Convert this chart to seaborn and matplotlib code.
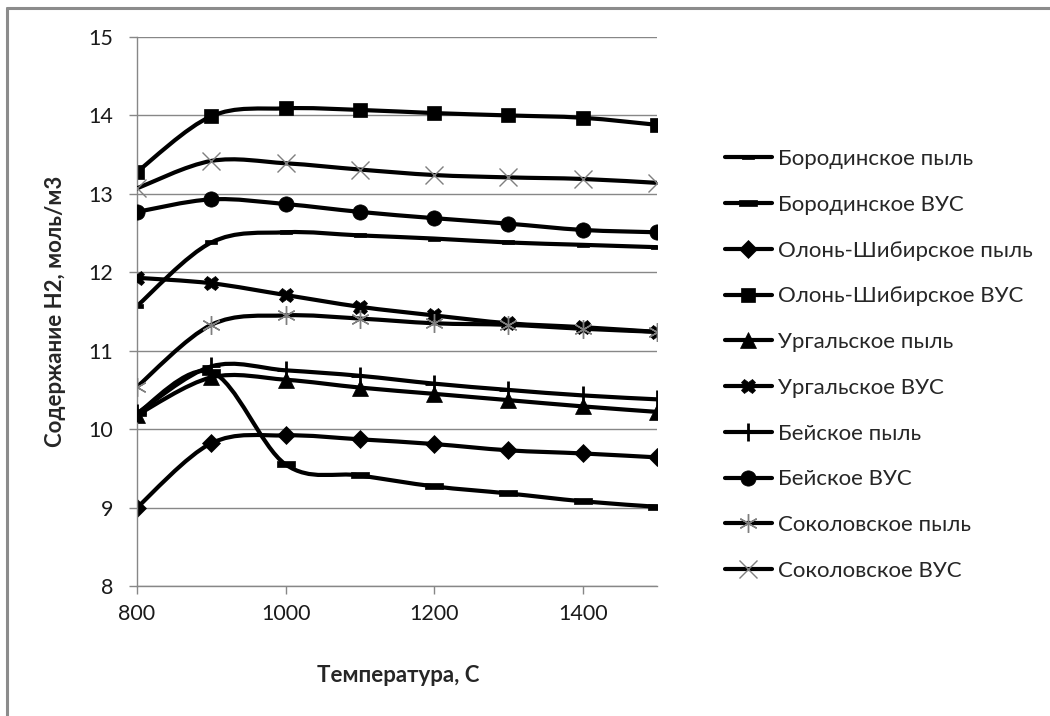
import numpy as np
import pandas as pd
import matplotlib
matplotlib.use("Agg")
import matplotlib.pyplot as plt
from matplotlib.path import Path
from matplotlib.patches import PathPatch
from matplotlib.lines import Line2D
import seaborn as sns

# ---------------- data ----------------
temps = [800, 900, 1000, 1100, 1200, 1300, 1400, 1500]

borodino_dust = [11.57, 12.38, 12.51, 12.47, 12.43, 12.38, 12.35, 12.32]
borodino_vus = [10.20, 10.73, 9.55, 9.41, 9.27, 9.18, 9.08, 9.01]
olon_dust = [9.00, 9.82, 9.92, 9.87, 9.81, 9.73, 9.69, 9.64]
olon_vus = [13.28, 13.99, 14.09, 14.07, 14.03, 14.00, 13.97, 13.88]
urgal_dust = [10.18, 10.66, 10.63, 10.53, 10.45, 10.37, 10.29, 10.22]
urgal_vus = [11.93, 11.86, 11.71, 11.56, 11.45, 11.35, 11.30, 11.24]
bei_dust = [10.20, 10.80, 10.75, 10.68, 10.58, 10.50, 10.43, 10.38]
bei_vus = [12.77, 12.93, 12.87, 12.77, 12.69, 12.62, 12.54, 12.51]
sokol_dust = [10.54, 11.33, 11.45, 11.41, 11.35, 11.33, 11.28, 11.24]
sokol_vus = [13.07, 13.42, 13.39, 13.31, 13.24, 13.21, 13.19, 13.14]

series_names = ["Бородинское пыль", "Бородинское ВУС",
                "Олонь-Шибирское пыль", "Олонь-Шибирское ВУС",
                "Ургальское пыль", "Ургальское ВУС",
                "Бейское пыль", "Бейское ВУС",
                "Соколовское пыль", "Соколовское ВУС"]
series_values = [borodino_dust, borodino_vus, olon_dust, olon_vus,
                 urgal_dust, urgal_vus, bei_dust, bei_vus,
                 sokol_dust, sokol_vus]

y_ticks = [8, 9, 10, 11, 12, 13, 14, 15]
x_ticks = [800, 1000, 1200, 1400]

# ---------------- styles ----------------
dash_small = [(-1, -0.38), (1, -0.38), (1, 0.38), (-1, 0.38), (-1, -0.38)]
dash_big = [(-1, -0.36), (1, -0.36), (1, 0.36), (-1, 0.36), (-1, -0.36)]
GRAY = "#7f7f7f"
styles = [
    dict(marker=dash_small, ms=9, mfc="black", mec="black", mew=0.5),
    dict(marker=dash_big, ms=12.5, mfc="black", mec="black", mew=0.5),
    dict(marker="D", ms=9, mfc="black", mec="black", mew=0.5),
    dict(marker="s", ms=10.5, mfc="black", mec="black", mew=0.5),
    dict(marker="^", ms=12, mfc="black", mec="black", mew=0.5),
    dict(marker="X", ms=10.5, mfc="black", mec="black", mew=0.5),
    dict(marker="+", ms=12.5, mfc="black", mec="black", mew=2.0),
    dict(marker="o", ms=11, mfc="black", mec="black", mew=0.5),
    dict(marker=(6, 2, 0), ms=13.5, mfc=GRAY, mec=GRAY, mew=1.0),
    dict(marker="x", ms=12.5, mfc=GRAY, mec=GRAY, mew=1.0),
]

sns.set_theme(style="white")
plt.rcParams["font.family"] = ["Lato", "Open Sans", "DejaVu Sans"]

fig = plt.figure(figsize=(10.5, 7.16), dpi=100)
ax = fig.add_axes([137 / 1050, 130 / 716, 520 / 1050, 549 / 716])


def smooth_path(xs, ys):
    pts = np.column_stack([xs, ys]).astype(float)
    n = len(pts)
    verts = [pts[0]]
    codes = [Path.MOVETO]
    for i in range(n - 1):
        p0 = pts[i - 1] if i > 0 else pts[i]
        p1 = pts[i]
        p2 = pts[i + 1]
        p3 = pts[i + 2] if i + 2 < n else pts[i + 1]
        c1 = p1 + (p2 - p0) / 6.0
        c2 = p2 - (p3 - p1) / 6.0
        verts += [c1, c2, p2]
        codes += [Path.CURVE4] * 3
    return Path(verts, codes)


LW = 3.0
for i, (name, vals) in enumerate(zip(series_names, series_values)):
    df = pd.DataFrame({"T": temps, "H2": vals})
    patch = PathPatch(smooth_path(df["T"], df["H2"]), facecolor="none",
                      edgecolor="black", lw=LW, capstyle="round",
                      joinstyle="round", zorder=2 + i * 0.1)
    ax.add_patch(patch)
    st = styles[i]
    sns.lineplot(data=df, x="T", y="H2", ax=ax, linewidth=0,
                 marker=st["marker"], markersize=st["ms"],
                 markerfacecolor=st["mfc"], markeredgecolor=st["mec"],
                 markeredgewidth=st["mew"], color="black",
                 zorder=2.05 + i * 0.1, legend=False)

ax.set_xlim(800, 1500)
ax.set_ylim(8, 15)
ax.set_xticks(x_ticks)
ax.set_yticks(y_ticks)
ax.set_xticklabels([str(t) for t in x_ticks])
ax.set_yticklabels([str(t) for t in y_ticks])

GRID = "#878787"
ax.grid(axis="y", color=GRID, lw=1.0)
ax.grid(axis="x", visible=False)
ax.set_axisbelow(True)
for s in ["top", "right"]:
    ax.spines[s].set_visible(False)
for s in ["left", "bottom"]:
    ax.spines[s].set_color(GRID)
    ax.spines[s].set_linewidth(1.0)
ax.tick_params(axis="both", direction="out", length=6, width=1.0,
               color=GRID, labelsize=15.5, labelcolor="#1a1a1a",
               left=True, bottom=True)
ax.tick_params(axis="y", pad=11)
ax.tick_params(axis="x", pad=7)

ax.set_xlabel("Температура, С", fontsize=16, fontweight="bold")
ax.set_ylabel("Содержание Н2, моль/м3", fontsize=16, fontweight="bold")
ax.xaxis.label.set_va("center")
ax.yaxis.label.set_va("center")
ax.xaxis.set_label_coords((398 - 137) / 520, -(676 - 586) / 549)
ax.yaxis.set_label_coords((55 - 137) / 520, 0.5)

handles = []
for i, name in enumerate(series_names):
    st = styles[i]
    handles.append(Line2D([0], [0], color="black", lw=LW,
                          marker=st["marker"], markersize=st["ms"],
                          markerfacecolor=st["mfc"],
                          markeredgecolor=st["mec"],
                          markeredgewidth=st["mew"]))
leg = fig.legend(handles, series_names, loc="upper left",
                 bbox_to_anchor=(725 / 1050, 1 - 149 / 716),
                 frameon=False, fontsize=16, handlelength=2.1,
                 handletextpad=0.28, labelspacing=1.16, borderpad=0,
                 borderaxespad=0)

# outer chart frame (top and left edges visible)
fig.add_artist(Line2D([7 / 1050, 7 / 1050], [0, 1 - 8 / 716],
                      transform=fig.transFigure, color="#8c8c8c", lw=2.2))
fig.add_artist(Line2D([7 / 1050, 1], [1 - 8 / 716, 1 - 8 / 716],
                      transform=fig.transFigure, color="#8c8c8c", lw=2.2))

fig.savefig("out.png", dpi=100, facecolor="white")
